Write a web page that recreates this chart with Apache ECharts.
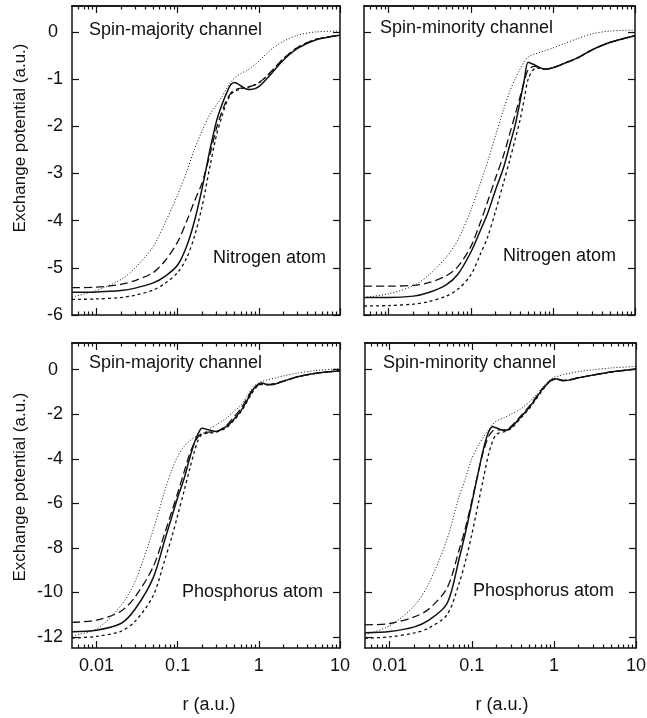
<!DOCTYPE html>
<html>
<head>
<meta charset="utf-8">
<script src="https://cdn.jsdelivr.net/npm/echarts@6/dist/echarts.min.js"></script>
<style>
  html, body { margin: 0; padding: 0; background: #fff; }
  #chart { width: 647px; height: 718px; }
</style>
</head>
<body>
<div id="chart"></div>
<script>
// radial grid (a.u.)
const rNitrogen = [0.005, 0.01, 0.02, 0.03, 0.05, 0.07, 0.1, 0.13, 0.16, 0.2, 0.25, 0.3, 0.35,
  0.4, 0.45, 0.5, 0.6, 0.7, 0.8, 1.0, 1.4, 2, 3, 5, 10];
const rPhosphorus = [0.005, 0.01, 0.02, 0.03, 0.05, 0.07, 0.085, 0.1, 0.12, 0.14, 0.16, 0.18, 0.2,
  0.25, 0.3, 0.4, 0.5, 0.6, 0.7, 0.8, 0.9, 1.0, 1.1, 1.3, 1.6, 2, 3, 5, 10];

// Nitrogen, spin-majority
const nMajSolid = [-5.52, -5.51, -5.48, -5.43, -5.32, -5.18, -4.94, -4.53, -4.03, -3.32, -2.50, -1.90, -1.55,
  -1.30, -1.12, -1.07, -1.14, -1.21, -1.22, -1.16, -0.90, -0.60, -0.35, -0.17, -0.07];
const nMajLongDash = [-5.42, -5.41, -5.35, -5.27, -5.10, -4.85, -4.45, -4.0, -3.6, -3.2, -2.6, -2.05, -1.7,
  -1.45, -1.30, -1.23, -1.19, -1.18, -1.15, -1.08, -0.85, -0.57, -0.33, -0.16, -0.07];
const nMajShortDash = [-5.67, -5.66, -5.63, -5.58, -5.47, -5.33, -5.10, -4.78, -4.35, -3.7, -2.85, -2.2, -1.8,
  -1.5, -1.33, -1.26, -1.21, -1.18, -1.15, -1.08, -0.86, -0.57, -0.33, -0.16, -0.07];
const nMajDotted = [-5.62, -5.48, -5.25, -5.0, -4.55, -4.05, -3.45, -2.95, -2.5, -2.1, -1.75, -1.55, -1.38,
  -1.2, -1.07, -0.98, -0.88, -0.82, -0.76, -0.62, -0.38, -0.2, -0.07, 0.0, 0.02];

// Nitrogen, spin-minority
const nMinSolid = [-5.63, -5.63, -5.60, -5.53, -5.36, -5.13, -4.67, -4.22, -3.85, -3.35, -2.88, -2.38, -1.95,
  -1.45, -1.0, -0.64, -0.70, -0.76, -0.79, -0.76, -0.66, -0.55, -0.38, -0.22, -0.08];
const nMinLongDash = [-5.39, -5.39, -5.37, -5.32, -5.17, -4.97, -4.55, -4.05, -3.6, -3.1, -2.62, -2.14, -1.73,
  -1.36, -1.04, -0.80, -0.73, -0.77, -0.79, -0.76, -0.66, -0.55, -0.38, -0.22, -0.08];
const nMinShortDash = [-5.81, -5.80, -5.77, -5.72, -5.6, -5.45, -5.15, -4.72, -4.35, -3.8, -3.2, -2.7, -2.25,
  -1.85, -1.4, -1.0, -0.78, -0.77, -0.79, -0.76, -0.66, -0.55, -0.38, -0.22, -0.08];
const nMinDotted = [-5.63, -5.55, -5.38, -5.17, -4.78, -4.4, -3.78, -3.22, -2.75, -2.2, -1.65, -1.25, -0.98,
  -0.78, -0.62, -0.53, -0.47, -0.43, -0.40, -0.34, -0.24, -0.14, -0.04, 0.02, 0.04];

// Phosphorus, spin-majority
const pMajSolid = [-11.77, -11.7, -11.4, -10.75, -9.35, -7.6, -6.6, -5.75, -4.9, -4.0, -3.3, -2.85, -2.63,
  -2.72, -2.77, -2.55, -2.2, -1.85, -1.45, -1.05, -0.78, -0.64, -0.60, -0.68, -0.64, -0.52, -0.32, -0.16, -0.05];
const pMajLongDash = [-11.35, -11.25, -10.85, -10.2, -8.85, -7.3, -6.35, -5.55, -4.6, -3.8, -3.3, -3.0, -2.85,
  -2.8, -2.78, -2.5, -2.1, -1.75, -1.35, -1.0, -0.78, -0.67, -0.64, -0.66, -0.62, -0.51, -0.32, -0.16, -0.05];
const pMajShortDash = [-12.05, -11.98, -11.75, -11.3, -10.15, -8.5, -7.5, -6.55, -5.45, -4.5, -3.7, -3.15, -2.9,
  -2.85, -2.8, -2.6, -2.25, -1.9, -1.5, -1.12, -0.85, -0.7, -0.66, -0.67, -0.63, -0.52, -0.32, -0.16, -0.05];
const pMajDotted = [-11.95, -11.65, -10.6, -9.5, -7.2, -5.4, -4.5, -3.9, -3.45, -3.2, -3.05, -2.95, -2.88,
  -2.65, -2.48, -2.17, -1.85, -1.6, -1.25, -0.92, -0.7, -0.58, -0.52, -0.45, -0.37, -0.28, -0.15, -0.04, 0.05];

// Phosphorus, spin-minority
const pMinSolid = [-11.82, -11.76, -11.55, -11.25, -10.5, -8.5, -7.2, -6.0, -4.6, -3.5, -2.8, -2.56, -2.62,
  -2.73, -2.6, -2.1, -1.7, -1.3, -0.95, -0.7, -0.5, -0.42, -0.42, -0.5, -0.45, -0.36, -0.24, -0.1, 0.03];
const pMinLongDash = [-11.46, -11.4, -11.1, -10.75, -9.8, -8.1, -7.0, -5.9, -4.6, -3.6, -3.0, -2.75, -2.7,
  -2.7, -2.55, -2.05, -1.65, -1.25, -0.92, -0.68, -0.5, -0.43, -0.42, -0.48, -0.44, -0.36, -0.24, -0.1, 0.03];
const pMinShortDash = [-12.06, -12.0, -11.82, -11.6, -11.0, -9.6, -8.5, -7.4, -6.0, -4.8, -3.8, -3.2, -2.9,
  -2.78, -2.65, -2.15, -1.75, -1.35, -1.0, -0.72, -0.52, -0.45, -0.43, -0.48, -0.44, -0.36, -0.24, -0.1, 0.03];
const pMinDotted = [-11.9, -11.5, -10.6, -9.6, -7.6, -5.7, -4.8, -4.0, -3.4, -3.0, -2.7, -2.45, -2.3,
  -2.15, -2.0, -1.75, -1.45, -1.15, -0.85, -0.62, -0.45, -0.35, -0.3, -0.22, -0.15, -0.08, 0.0, 0.08, 0.15];

// axis ticks / labels
const xTickValues = [0.01, 0.1, 1, 10];
const xTickLabels = ['0.01', '0.1', '1', '10'];
const yTicksNitrogen = [-6, -5, -4, -3, -2, -1, 0];
const yTicksPhosphorus = [-12, -10, -8, -6, -4, -2, 0];

const X_MIN = 0.005, X_MAX = 10;
const INK = '#111';
const FONT = '"Liberation Sans", Arial, sans-serif';

const LOG_MIN = Math.log10(X_MIN), LOG_MAX = Math.log10(X_MAX);
const majorLog = xTickValues.map(v => Math.log10(v));
const minorLog = [];
for (let d = -3; d <= 0; d++) {
  for (let m = 2; m <= 9; m++) {
    const v = m * Math.pow(10, d);
    if (v > X_MIN * 1.0001 && v < X_MAX) minorLog.push(Math.log10(v));
  }
}

const styles = {
  solid: { width: 1.5, type: 'solid' },
  longDash: { width: 1.3, type: [8, 4] },
  shortDash: { width: 1.3, type: [3, 3] },
  dotted: { width: 1, type: [1, 2] }
};

const panels = [
  { grid: { left: 72, top: 6, width: 268, height: 309 }, yMin: -6, yMax: 0.55, yTicks: yTicksNitrogen,
    r: rNitrogen, curves: { solid: nMajSolid, longDash: nMajLongDash, shortDash: nMajShortDash, dotted: nMajDotted },
    yLabels: true, xLabels: false },
  { grid: { left: 364, top: 6, width: 271, height: 309 }, yMin: -6, yMax: 0.55, yTicks: yTicksNitrogen,
    r: rNitrogen, curves: { solid: nMinSolid, longDash: nMinLongDash, shortDash: nMinShortDash, dotted: nMinDotted },
    yLabels: false, xLabels: false },
  { grid: { left: 72, top: 343, width: 268, height: 305 }, yMin: -12.5, yMax: 1.2, yTicks: yTicksPhosphorus,
    r: rPhosphorus, curves: { solid: pMajSolid, longDash: pMajLongDash, shortDash: pMajShortDash, dotted: pMajDotted },
    yLabels: true, xLabels: true },
  { grid: { left: 365, top: 343, width: 271, height: 305 }, yMin: -12.5, yMax: 1.2, yTicks: yTicksPhosphorus,
    r: rPhosphorus, curves: { solid: pMinSolid, longDash: pMinLongDash, shortDash: pMinShortDash, dotted: pMinDotted },
    yLabels: false, xLabels: true }
];

const frameLine = { onZero: false, lineStyle: { color: INK, width: 1.5 } };

function tickAxis(gridIndex, position, values, length, showLabels) {
  return {
    type: 'value', gridIndex, position, min: LOG_MIN, max: LOG_MAX,
    axisLine: { show: position === 'top', onZero: false, lineStyle: { color: INK, width: 1.5 } },
    axisTick: { show: true, inside: true, length, customValues: values, lineStyle: { color: INK, width: 1.2 } },
    axisLabel: {
      show: showLabels, customValues: majorLog, margin: 9,
      color: INK, fontSize: 18, fontFamily: FONT,
      formatter: v => {
        const k = majorLog.findIndex(t => Math.abs(t - v) < 1e-6);
        return k >= 0 ? xTickLabels[k] : '';
      }
    },
    splitLine: { show: false }
  };
}

const xAxis = [], yAxis = [], series = [], grid = [];
panels.forEach((p, i) => {
  grid.push(Object.assign({ outerBoundsMode: 'none', containLabel: false }, p.grid));
  xAxis.push({
    type: 'log', gridIndex: i, logBase: 10, min: X_MIN, max: X_MAX, position: 'bottom',
    axisLine: frameLine, axisTick: { show: false }, axisLabel: { show: false }, splitLine: { show: false }
  });
  xAxis.push(tickAxis(i, 'bottom', majorLog, 7, p.xLabels));
  xAxis.push(tickAxis(i, 'bottom', minorLog, 3.5, false));
  xAxis.push(tickAxis(i, 'top', majorLog, 7, false));
  xAxis.push(tickAxis(i, 'top', minorLog, 3.5, false));

  const yBase = {
    type: 'value', gridIndex: i, min: p.yMin, max: p.yMax,
    axisLine: frameLine,
    axisTick: { show: true, inside: true, length: 7, customValues: p.yTicks, lineStyle: { color: INK, width: 1.2 } },
    splitLine: { show: false }
  };
  yAxis.push(Object.assign({}, yBase, {
    position: 'left',
    axisLabel: {
      show: p.yLabels, customValues: p.yTicks, margin: 9, color: INK, fontSize: 18, fontFamily: FONT,
      formatter: v => (v === 0 ? '0 ' : String(v))
    }
  }));
  yAxis.push(Object.assign({}, yBase, { position: 'right', axisLabel: { show: false } }));

  Object.keys(p.curves).forEach(key => {
    const vals = p.curves[key];
    series.push({
      type: 'line', name: key, xAxisIndex: i * 5, yAxisIndex: i * 2,
      data: p.r.map((r, k) => [r, vals[k]]),
      showSymbol: false, smooth: 0.3, silent: true, clip: true,
      lineStyle: { color: INK, width: styles[key].width, type: styles[key].type }
    });
  });
});

function label(text, x, y, opts) {
  return Object.assign({
    type: 'text', x, y, silent: true,
    style: Object.assign({ text, fill: INK, font: '18px ' + FONT, align: 'left', verticalAlign: 'middle' },
      (opts && opts.style) || {})
  }, (opts && opts.el) || {});
}

const graphic = [
  label('Spin-majority channel', 89, 30),
  label('Nitrogen atom', 213, 258),
  label('Spin-minority channel', 380, 28),
  label('Nitrogen atom', 503, 256),
  label('Spin-majority channel', 89, 363),
  label('Phosphorus atom', 182, 592),
  label('Spin-minority channel', 383, 363),
  label('Phosphorus atom', 473, 591),
  label('Exchange potential (a.u.)', 20, 138,
    { el: { rotation: Math.PI / 2 }, style: { align: 'center', font: '17px ' + FONT } }),
  label('Exchange potential (a.u.)', 20, 487,
    { el: { rotation: Math.PI / 2 }, style: { align: 'center', font: '17px ' + FONT } }),
  label('r (a.u.)', 209, 705, { style: { align: 'center' } }),
  label('r (a.u.)', 502, 705, { style: { align: 'center' } })
];

const chart = echarts.init(document.getElementById('chart'));
chart.setOption({
  animation: false,
  backgroundColor: '#fff',
  grid, xAxis, yAxis, series, graphic
});
</script>
</body>
</html>
